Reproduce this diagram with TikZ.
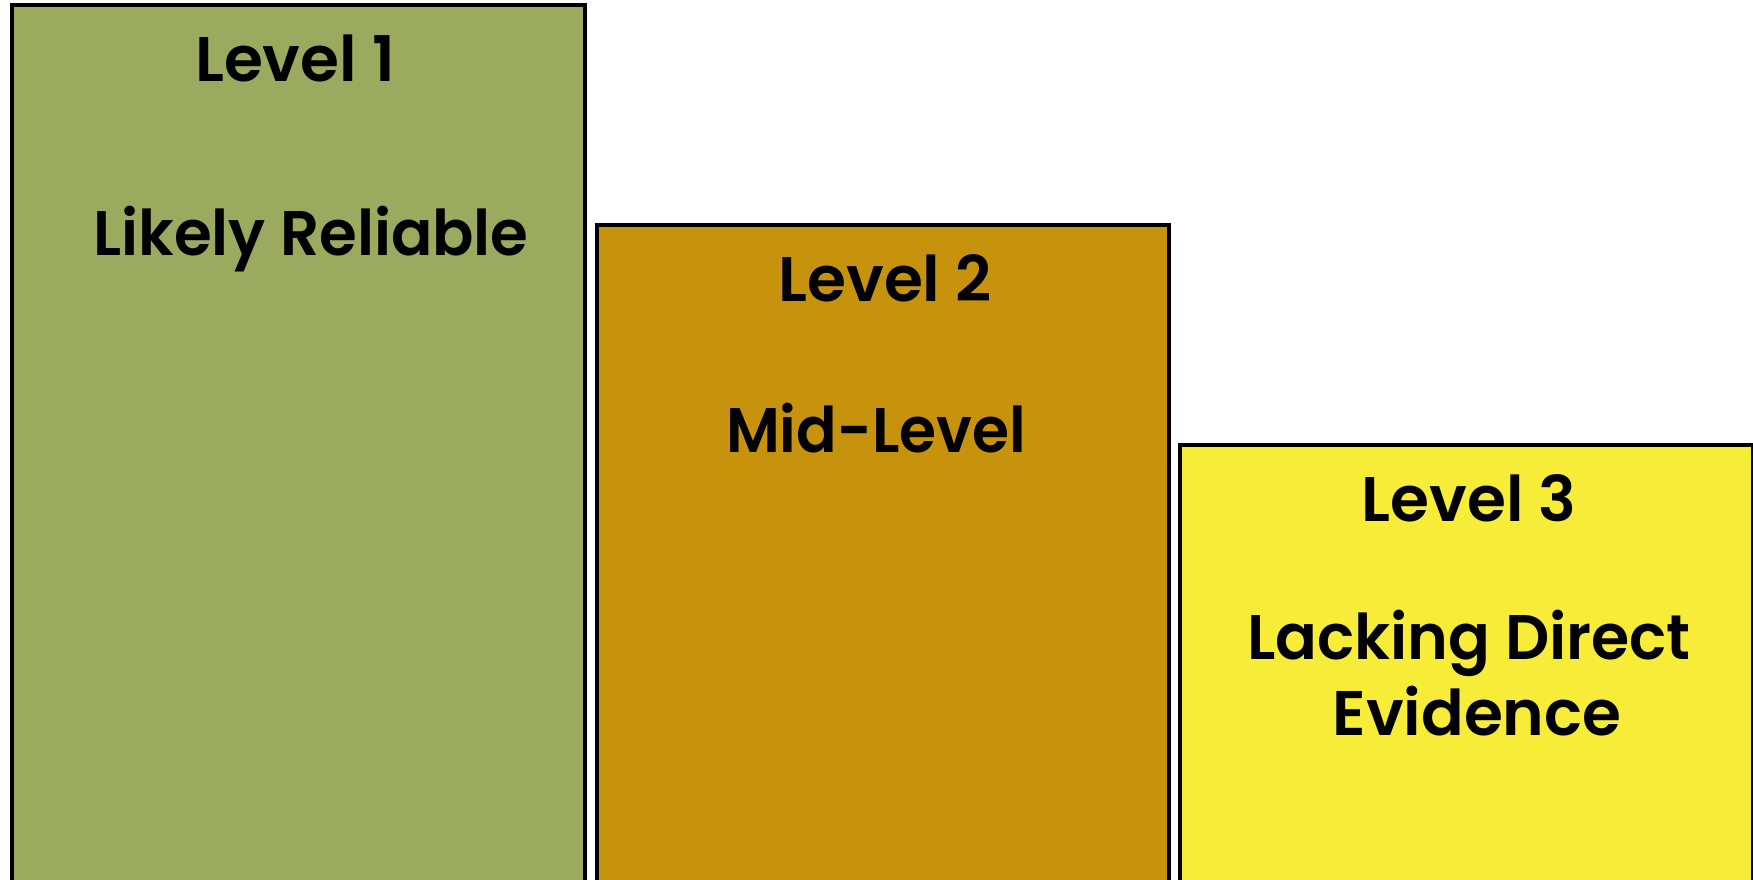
\documentclass[tikz,border=0pt]{standalone}
\usepackage{fontspec}
\setmainfont{Poppins}[UprightFont=* SemiBold,BoldFont=* Bold]
\definecolor{lvlgreen}{RGB}{155,170,95}
\definecolor{lvlorange}{RGB}{200,147,12}
\definecolor{lvlyellow}{RGB}{247,236,56}
\begin{document}
\begin{tikzpicture}[x=1pt,y=-1pt,
  levelbox/.style={draw=black,line width=3.5pt,anchor=north west,inner sep=0pt,outer sep=0pt},
  lbl/.style={anchor=base,inner sep=0pt,font=\fontsize{63}{76}\selectfont}]
\useasboundingbox (0,0) rectangle (1753,880);
\clip (0,0) rectangle (1753,880);
\fill[white] (0,0) rectangle (1753,880);
\node[levelbox,fill=lvlgreen,minimum width=573pt,minimum height=900pt] (b1) at (12,5) {};
\node[levelbox,fill=lvlorange,minimum width=572pt,minimum height=700pt] (b2) at (597,225) {};
\node[levelbox,fill=lvlyellow,minimum width=573pt,minimum height=500pt] (b3) at (1180,445) {};
\node[lbl] (t1a) at (295,82) {Level 1};
\node[lbl] (t1b) at (311,255) {\scalebox{0.97}[1]{Likely Reliable}};
\node[lbl] (t2a) at (885,301) {Level 2};
\node[lbl] (t2b) at (876,452) {\scalebox{0.95}[1]{Mid-Level}};
\node[lbl] (t3a) at (1469,521) {Level 3};
\node[lbl] (t3b) at (1469,659) {\scalebox{0.98}[1]{Lacking Direct}};
\node[lbl] (t3c) at (1477,735) {Evidence};
\end{tikzpicture}
\end{document}
